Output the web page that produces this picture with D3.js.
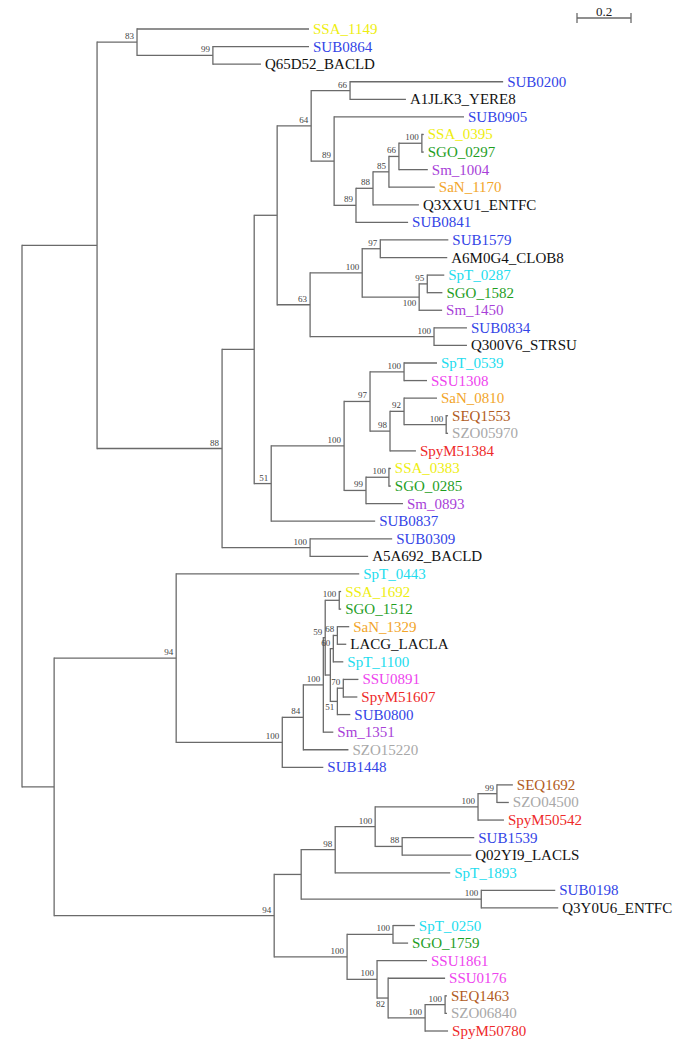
<!DOCTYPE html>
<html><head><meta charset="utf-8">
<script src="https://cdn.jsdelivr.net/npm/d3@7"></script>
<style>body{margin:0;background:#fff}</style>
</head><body>
<svg id="chart" width="685" height="1045"></svg>
<script>
// ---------- DATA (Newick clades, branch lengths in substitutions/site, internal labels = bootstrap) ----------
const cladeBacld = "(SSA_1149:0.637,(SUB0864:0.356,Q65D52_BACLD:0.178)99:0.281)83:0.148";
const cladeYere = "((SUB0200:0.567,A1JLK3_YERE8:0.207)66:0.144,(SUB0905:0.481,(((((SSA_0395:0.007,SGO_0297:0.007)100:0.085,Sm_1004:0.107)66:0.037,SaN_1170:0.170)85:0.059,Q3XXU1_ENTFC:0.170)88:0.063,SUB0841:0.193)89:0.081)89:0.085)64:0.126";
const cladeClob = "(((SUB1579:0.252,A6M0G4_CLOB8:0.248)97:0.067,((SpT_0287:0.063,SGO_1582:0.056)95:0.030,Sm_1450:0.085)100:0.211)100:0.193,(SUB0834:0.122,Q300V6_STRSU:0.122)100:0.459)63:0.122";
const cladeStrep = "((((SpT_0539:0.122,SSU1308:0.085)100:0.126,((SaN_0810:0.122,(SEQ1553:0.007,SZO05970:0.007)100:0.156)92:0.052,SpyM51384:0.096)98:0.074)97:0.096,((SSA_0383:0.007,SGO_0285:0.007)100:0.085,Sm_0893:0.137)99:0.081)100:0.270,SUB0837:0.385)51:0.063";
const cladeA5a = "(SUB0309:0.304,A5A692_BACLD:0.215)100:0.326";
const cladeLacg60 = "((SaN_1329:0.044,LACG_LACLA:0.033)68:0.015,SpT_1100:0.037)60:0.011";
const cladeLacg51 = "((SSU0891:0.056,SpyM51607:0.052)70:0.022,SUB0800:0.048)51:0.026";
const cladeLacgCore = "((SSA_1692:0.007,SGO_1512:0.007)100:0.052,(" + cladeLacg60 + "," + cladeLacg51 + "):0.019)59:0.007";
const cladeLacg = "(SpT_0443:0.678,(((" + cladeLacgCore + ",Sm_1351:0.037)100:0.074,SZO15220:0.167)84:0.078,SUB1448:0.152)100:0.393)94:0.452";
const cladeSeq = "((((SEQ1692:0.059,SZO04500:0.044)99:0.070,SpyM50542:0.096)100:0.381,(SUB1539:0.267,Q02YI9_LACLS:0.256)88:0.100)100:0.148,SpT_1893:0.426)98:0.126";
const cladeEntfc = "(SUB0198:0.274,Q3Y0U6_ENTFC:0.285)100:0.667";
const cladeSgo = "((SpT_0250:0.081,SGO_1759:0.056)100:0.170,(SSU1861:0.185,(SSU0176:0.211,((SEQ1463:0.007,SZO06840:0.007)100:0.074,SpyM50780:0.085)100:0.137)82:0.041)100:0.111)100:0.270";

const newick =
  "((" + cladeBacld + ",(((" + cladeYere + "," + cladeClob + "):0.085," + cladeStrep + "):0.119," + cladeA5a + ")88:0.463):0.278," +
  "(" + cladeLacg + ",((" + cladeSeq + "," + cladeEntfc + "):0.100," + cladeSgo + ")94:0.815):0.119);";

const scaleBarValue = 0.2;
const scaleBarLabel = "0.2";

// ---------- STYLE ----------
const prefixColors = [
  ["SSA_", "#eeee10"], ["SUB", "#3344e6"], ["SGO_", "#1f9e1f"], ["Sm_", "#a83fd8"],
  ["SaN_", "#f2a52a"], ["SpT_", "#22dcee"], ["SSU", "#ee44ee"], ["SEQ", "#b15b22"],
  ["SZO", "#a8a8a8"], ["SpyM", "#ee2a2a"]
];
const labelsBelow = ["SpT_0287|Sm_1450", "SSU0891|SUB0800", "SSU0176|SpyM50780"];
const lineColor = "#6a6a6a";

function colorFor(name) {
  for (const [p, c] of prefixColors) if (name.startsWith(p)) return c;
  return "#111";
}

function parseNewick(s) {
  let i = 0;
  function node() {
    const n = {children: [], name: "", length: 0};
    if (s[i] === "(") {
      i++;
      n.children.push(node());
      while (s[i] === ",") { i++; n.children.push(node()); }
      if (s[i] !== ")") throw new Error("bad newick at " + i + " " + s.slice(i, i + 20));
      i++;
    }
    while (i < s.length && !",():;".includes(s[i])) n.name += s[i++];
    if (s[i] === ":") {
      i++; let num = "";
      while (i < s.length && !",();".includes(s[i])) num += s[i++];
      n.length = +num;
    }
    return n;
  }
  return node();
}

const root = d3.hierarchy(parseNewick(newick), d => d.children.length ? d.children : null);
root.eachBefore(d => { d.dist = d.parent ? d.parent.dist + d.data.length : 0; });
const leaves = root.leaves();

const x = d3.scaleLinear().domain([0, 1]).range([22, 292]);
const y = d3.scaleLinear().domain([0, leaves.length - 1]).range([29, 1031]);

leaves.forEach((l, i) => l.py = y(i));
root.eachAfter(d => {
  if (d.children) d.py = (d.children[0].py + d.children[d.children.length - 1].py) / 2;
  d.px = x(d.dist);
});

const svg = d3.select("#chart");
const g = svg.append("g");

// horizontal branches
g.selectAll("path.h").data(root.descendants().filter(d => d.parent)).join("path")
  .attr("class", "h")
  .attr("d", d => `M${d.parent.px},${d.py}H${d.px}`)
  .attr("fill", "none").attr("stroke", lineColor).attr("stroke-width", 1.3);

// vertical connectors
g.selectAll("path.v").data(root.descendants().filter(d => d.children)).join("path")
  .attr("class", "v")
  .attr("d", d => `M${d.px},${d.children[0].py}V${d.children[d.children.length - 1].py}`)
  .attr("fill", "none").attr("stroke", lineColor).attr("stroke-width", 1.3).attr("stroke-linecap", "square");

// leaf labels
g.selectAll("text.leaf").data(leaves).join("text")
  .attr("class", "leaf")
  .attr("x", d => d.px + 4)
  .attr("y", d => d.py + 5)
  .attr("font-family", "'Liberation Serif', 'Times New Roman', serif")
  .attr("font-size", 15)
  .attr("fill", d => colorFor(d.data.name))
  .text(d => d.data.name);

// bootstrap labels
const internals = root.descendants().filter(d => d.children && d.data.name);
g.selectAll("text.boot").data(internals).join("text")
  .attr("class", "boot")
  .attr("x", d => d.px - 3)
  .attr("y", d => {
    const ls = d.leaves();
    const key = ls[0].data.name + "|" + ls[ls.length - 1].data.name;
    return labelsBelow.includes(key) ? d.py + 9 : d.py - 3;
  })
  .attr("text-anchor", "end")
  .attr("font-family", "'Liberation Serif', 'Times New Roman', serif")
  .attr("font-size", 9)
  .attr("fill", "#444")
  .text(d => d.data.name);

// scale bar
const sbX = 577, sbY = 18;
const sbLen = x(scaleBarValue) - x(0);
const sb = svg.append("g").attr("stroke", lineColor).attr("stroke-width", 1.3);
sb.append("line").attr("x1", sbX).attr("x2", sbX + sbLen).attr("y1", sbY).attr("y2", sbY);
sb.append("line").attr("x1", sbX).attr("x2", sbX).attr("y1", sbY - 5).attr("y2", sbY + 5);
sb.append("line").attr("x1", sbX + sbLen).attr("x2", sbX + sbLen).attr("y1", sbY - 5).attr("y2", sbY + 5);
svg.append("text").attr("x", sbX + sbLen / 2).attr("y", sbY - 2)
  .attr("text-anchor", "middle")
  .attr("font-family", "'Liberation Serif', 'Times New Roman', serif")
  .attr("font-size", 13).attr("fill", "#222")
  .text(scaleBarLabel);
</script>
</body></html>
